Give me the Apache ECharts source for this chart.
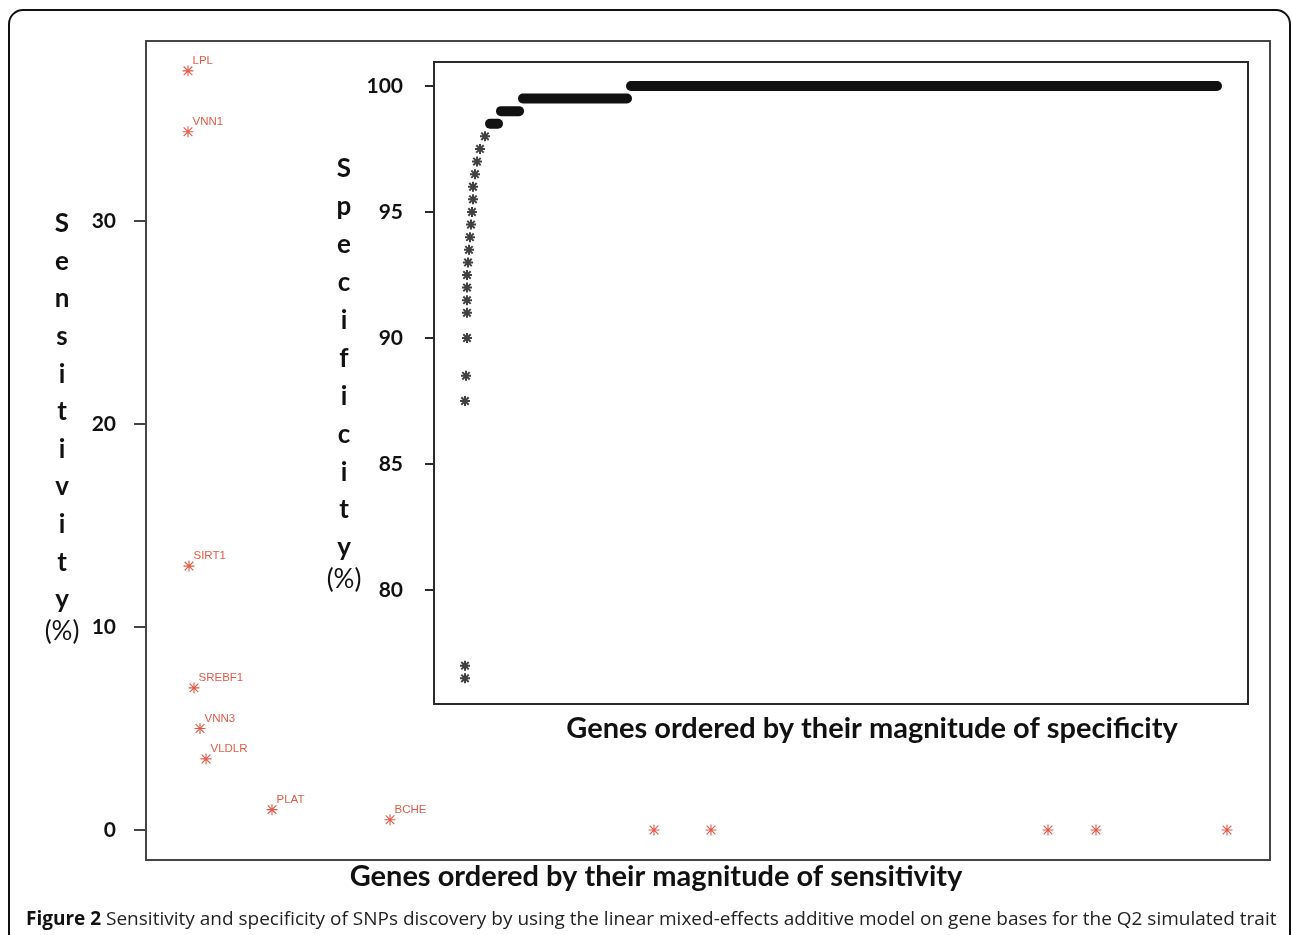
<!DOCTYPE html>
<html>
<head>
<meta charset="UTF-8">
<title>Figure 2</title>
<style>html,body{margin:0;padding:0;background:#fff;}#charts{width:1292px;height:935px;}</style>
</head>
<body>
<div id="charts"></div>
<script src="https://cdn.jsdelivr.net/npm/echarts@6/dist/echarts.min.js"></script>
<script>
// sensitivity (red stars): gene, rank along the x axis, value in %
var sensGenes = ['LPL', 'VNN1', 'SIRT1', 'SREBF1', 'VNN3', 'VLDLR', 'PLAT', 'BCHE', '', '', '', '', ''];
var sensRank = [42, 42, 43, 48, 54, 60, 126, 244, 508, 565, 902, 950, 1081];
var sensValue = [37.4, 34.4, 13, 7, 5, 3.5, 1, 0.5, 0, 0, 0, 0, 0];
var sensTicks = [0, 10, 20, 30];

// specificity (black stars): single genes
var specRank = [31, 31, 31, 32, 33, 33, 33, 33, 33, 34, 35, 36, 37, 38, 39, 39, 41, 43, 46, 51];
var specValue = [76.5, 77, 87.5, 88.5, 90, 91, 91.5, 92, 92.5, 93, 93.5, 94, 94.5, 95, 95.5, 96, 96.5, 97, 97.5, 98];
// tied genes, drawn as one solid band from start rank to end rank
var runStart = [56, 67, 89, 197];
var runEnd = [64, 85, 193, 783];
var runValue = [98.5, 99, 99.5, 100];
var specTicks = [80, 85, 90, 95, 100];

var starThin = 'path://M9 0H11V20H9Z M0 9H20V11H0Z M2.8 1.4L18.6 17.2L17.2 18.6L1.4 2.8Z M17.2 1.4L18.6 2.8L2.8 18.6L1.4 17.2Z';
var starBold = 'path://M8 0H12V20H8Z M0 8H20V12H0Z M4 1.2L18.8 16L16 18.8L1.2 4Z M16 1.2L18.8 4L4 18.8L1.2 16Z';

var red = '#e0301c';
var boxColor = '#454545';
var fontMain = 'Lato, "Open Sans", sans-serif';

// plot boxes and the value range they show
var mainBox = {left: 146, top: 41, width: 1124, height: 819, lo: -1.48, hi: 38.87, xMax: 1124};
var insetBox = {left: 434, top: 62, width: 814, height: 642, lo: 75.48, hi: 100.95, xMax: 814};

// grid holding only the tick labels, aligned with the box scale
function tickGrid(b, ticks) {
  var a = ticks[0], z = ticks[ticks.length - 1];
  return {
    left: b.left, width: b.width,
    top: b.top + (b.hi - z) / (b.hi - b.lo) * b.height,
    height: (z - a) / (b.hi - b.lo) * b.height,
    show: false
  };
}

var mycharts = echarts.init(document.getElementById('charts'), null, {renderer: 'canvas'});

var sensData = [];
for (var i = 0; i < sensRank.length; i++) {
  sensData.push({name: sensGenes[i], value: [sensRank[i], sensValue[i]]});
}
var specData = [];
for (var j = 0; j < specRank.length; j++) {
  specData.push([specRank[j], specValue[j]]);
}
var runData = [];
for (var k = 0; k < runStart.length; k++) {
  runData.push([runStart[k], runEnd[k], runValue[k]]);
}

var letters = function (w) { return w.split('').join('\n'); };

var option = {
  animation: false,
  backgroundColor: '#fff',
  grid: [
    {left: mainBox.left, top: mainBox.top, width: mainBox.width, height: mainBox.height,
     show: true, borderColor: boxColor, borderWidth: 2, backgroundColor: '#fff'},
    {left: insetBox.left, top: insetBox.top, width: insetBox.width, height: insetBox.height,
     show: true, borderColor: '#2a2a2a', borderWidth: 2, backgroundColor: '#fff', z: 3},
    tickGrid(mainBox, sensTicks),
    tickGrid(insetBox, specTicks)
  ],
  xAxis: [
    {gridIndex: 0, type: 'value', min: 0, max: mainBox.xMax, show: false},
    {gridIndex: 1, type: 'value', min: 0, max: insetBox.xMax, show: false},
    {gridIndex: 2, type: 'value', min: 0, max: 1, show: false},
    {gridIndex: 3, type: 'value', min: 0, max: 1, show: false}
  ],
  yAxis: [
    {gridIndex: 0, type: 'value', min: mainBox.lo, max: mainBox.hi, show: false},
    {gridIndex: 1, type: 'value', min: insetBox.lo, max: insetBox.hi, show: false},
    {gridIndex: 2, type: 'value', min: sensTicks[0], max: sensTicks[sensTicks.length - 1],
     interval: sensTicks[1] - sensTicks[0],
     axisLine: {show: false}, splitLine: {show: false},
     axisTick: {show: true, length: 12, lineStyle: {color: boxColor, width: 2}},
     axisLabel: {margin: 30, fontFamily: fontMain, fontWeight: 'bold', fontSize: 21, color: '#111'}},
    {gridIndex: 3, type: 'value', min: specTicks[0], max: specTicks[specTicks.length - 1],
     interval: specTicks[1] - specTicks[0],
     axisLine: {show: false}, splitLine: {show: false},
     axisTick: {show: true, length: 9, lineStyle: {color: '#2a2a2a', width: 2}},
     axisLabel: {margin: 31, fontFamily: fontMain, fontWeight: 'bold', fontSize: 21, color: '#111'}}
  ],
  graphic: [
    {type: 'rect', shape: {x: 9, y: 10, width: 1281, height: 1000, r: 14},
     style: {fill: 'none', stroke: '#111', lineWidth: 2}, z: 100},
    // axis titles
    {type: 'text', x: 62, y: 205, z: 100,
     style: {text: letters('Sensitivity'), align: 'center', verticalAlign: 'top', lineHeight: 37.6,
             font: 'bold 26px ' + fontMain, fill: '#111'}},
    {type: 'text', x: 62, y: 632, z: 100,
     style: {text: '(%)', align: 'center', verticalAlign: 'middle',
             font: '26px ' + fontMain, fill: '#111'}},
    {type: 'text', x: 344, y: 150, z: 100,
     style: {text: letters('Specificity'), align: 'center', verticalAlign: 'top', lineHeight: 37.9,
             font: 'bold 26px ' + fontMain, fill: '#111'}},
    {type: 'text', x: 344, y: 580, z: 100,
     style: {text: '(%)', align: 'center', verticalAlign: 'middle',
             font: '26px ' + fontMain, fill: '#111'}},
    {type: 'text', x: 656, y: 877, z: 100,
     style: {text: 'Genes ordered by their magnitude of sensitivity', align: 'center', verticalAlign: 'middle',
             font: 'bold 29px ' + fontMain, fill: '#111'}},
    {type: 'text', x: 872, y: 729, z: 100,
     style: {text: 'Genes ordered by their magnitude of specificity', align: 'center', verticalAlign: 'middle',
             font: 'bold 29px ' + fontMain, fill: '#111'}},
    // caption
    {type: 'text', x: 26, y: 920, z: 100,
     style: {text: '{b|Figure 2} Sensitivity and specificity of SNPs discovery by using the linear mixed-effects additive model on gene bases for the Q2 simulated trait',
             verticalAlign: 'middle', font: '19px "Open Sans", sans-serif', fill: '#222',
             rich: {b: {font: 'bold 19px "Open Sans", sans-serif', fill: '#111'}}}}
  ],
  series: [
    {
      name: 'Sensitivity', type: 'scatter', xAxisIndex: 0, yAxisIndex: 0,
      symbol: starThin, symbolSize: 11,
      itemStyle: {color: red},
      label: {show: true, position: 'right', distance: 0, offset: [-1, -10],
              formatter: '{b}', color: red, fontSize: 11.5,
              fontFamily: '"Liberation Sans", Arial, sans-serif'},
      data: sensData
    },
    {
      name: 'Specificity', type: 'scatter', xAxisIndex: 1, yAxisIndex: 1, z: 5,
      symbol: starBold, symbolSize: 10,
      itemStyle: {color: '#111'},
      data: specData
    },
    {
      name: 'Specificity ties', type: 'custom', xAxisIndex: 1, yAxisIndex: 1, z: 5,
      encode: {x: [0, 1], y: 2},
      renderItem: function (params, api) {
        var p1 = api.coord([api.value(0), api.value(2)]);
        var p2 = api.coord([api.value(1), api.value(2)]);
        return {type: 'line', shape: {x1: p1[0], y1: p1[1], x2: p2[0], y2: p2[1]},
                style: {stroke: '#111', lineWidth: 10, lineCap: 'round'}};
      },
      data: runData
    }
  ]
};
mycharts.setOption(option);
</script>
</body>
</html>
